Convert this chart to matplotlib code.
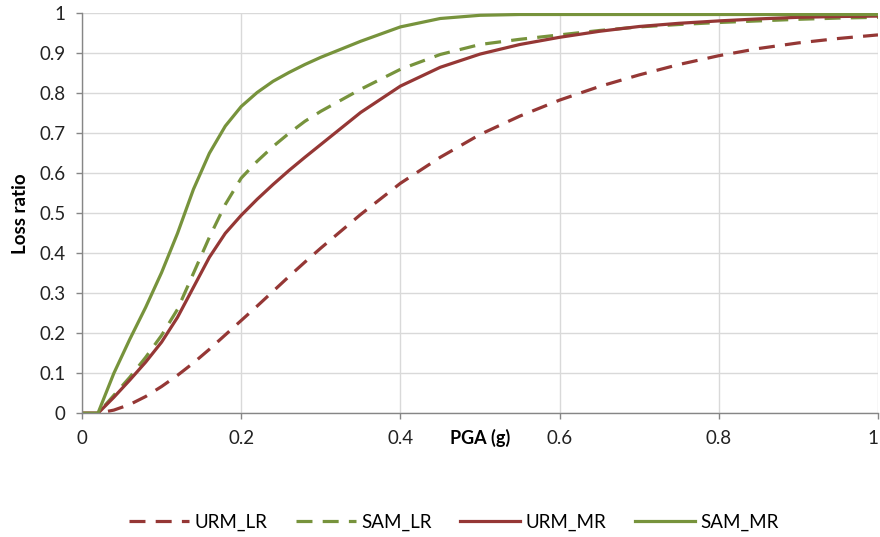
import matplotlib.pyplot as plt

plt.rcParams['font.family'] = ['Lato', 'DejaVu Sans']

# PGA values (g) shared by all curves
pga = [0, 0.02, 0.04, 0.06, 0.08, 0.1, 0.12, 0.14, 0.16, 0.18, 0.2, 0.22, 0.24, 0.26,
       0.28, 0.3, 0.35, 0.4, 0.45, 0.5, 0.55, 0.6, 0.65, 0.7, 0.75, 0.8, 0.85, 0.9,
       0.95, 1.0]

urm_lr = [0, 0, 0.008, 0.022, 0.042, 0.067, 0.095, 0.126, 0.16, 0.196, 0.232, 0.268,
          0.305, 0.342, 0.378, 0.413, 0.497, 0.575, 0.64, 0.697, 0.743, 0.783, 0.817,
          0.846, 0.872, 0.894, 0.912, 0.926, 0.937, 0.946]
sam_lr = [0, 0, 0.045, 0.09, 0.14, 0.195, 0.26, 0.35, 0.44, 0.522, 0.588, 0.63,
          0.667, 0.7, 0.73, 0.755, 0.81, 0.86, 0.897, 0.922, 0.935, 0.946, 0.957,
          0.966, 0.972, 0.977, 0.981, 0.985, 0.988, 0.99]
urm_mr = [0, 0, 0.04, 0.083, 0.128, 0.178, 0.24, 0.315, 0.39, 0.45, 0.495, 0.535,
          0.572, 0.607, 0.64, 0.672, 0.752, 0.818, 0.865, 0.898, 0.922, 0.94, 0.955,
          0.967, 0.975, 0.981, 0.986, 0.99, 0.992, 0.993]
sam_mr = [0, 0, 0.1, 0.185, 0.265, 0.352, 0.45, 0.56, 0.65, 0.718, 0.767, 0.802,
          0.83, 0.852, 0.872, 0.89, 0.93, 0.966, 0.987, 0.995, 0.997, 0.997, 0.997,
          0.997, 0.997, 0.997, 0.997, 0.997, 0.997, 0.997]

red = '#953735'
green = '#77933c'

fig = plt.figure(figsize=(8.8, 5.37), dpi=100)
ax = fig.add_axes([82 / 880, 1 - 413.3 / 537, 796 / 880, 400 / 537])

lw = 2.3
ax.plot(pga, urm_lr, color=red, lw=lw, dashes=(5, 3.2), label='URM_LR')
ax.plot(pga, sam_lr, color=green, lw=lw, dashes=(5, 3.2), label='SAM_LR')
ax.plot(pga, urm_mr, color=red, lw=lw, solid_joinstyle='round', label='URM_MR')
ax.plot(pga, sam_mr, color=green, lw=lw, solid_joinstyle='round', label='SAM_MR')

ax.set_xlim(0, 1)
ax.set_ylim(0, 1)
ax.set_xticks([0, 0.2, 0.4, 0.6, 0.8, 1])
ax.set_xticklabels(['0', '0.2', '0.4', '0.6', '0.8', '1'])
ax.get_xticklabels()[-1].set_ha('right')
ax.set_yticks([i / 10 for i in range(11)])
ax.set_yticklabels(['0'] + ['0.%d' % i for i in range(1, 10)] + ['1'])
ax.grid(True, color='#d9d9d9', lw=1)
ax.set_axisbelow(True)
for s in ['top', 'right']:
    ax.spines[s].set_visible(False)
for s in ['left', 'bottom']:
    ax.spines[s].set_color('#868686')
    ax.spines[s].set_linewidth(1)
ax.tick_params(axis='both', colors='#868686', labelcolor='#222222', labelsize=13.5,
               length=4, width=1)
ax.tick_params(axis='y', pad=8)
ax.tick_params(axis='x', pad=8)

ax.set_xlabel('PGA (g)', fontsize=13, fontweight='bold')
ax.xaxis.set_label_coords(0.5, -0.04)
ax.set_ylabel('Loss ratio', fontsize=13.5, fontweight='bold')
ax.yaxis.set_label_coords(-0.066, 0.5)

fig.legend(loc='center', bbox_to_anchor=(454 / 880, 1 - 522 / 537), ncol=4,
           frameon=False, fontsize=13.5, handlelength=3.2, handletextpad=0.3,
           columnspacing=1.5)

fig.savefig('out.png', dpi=100)
